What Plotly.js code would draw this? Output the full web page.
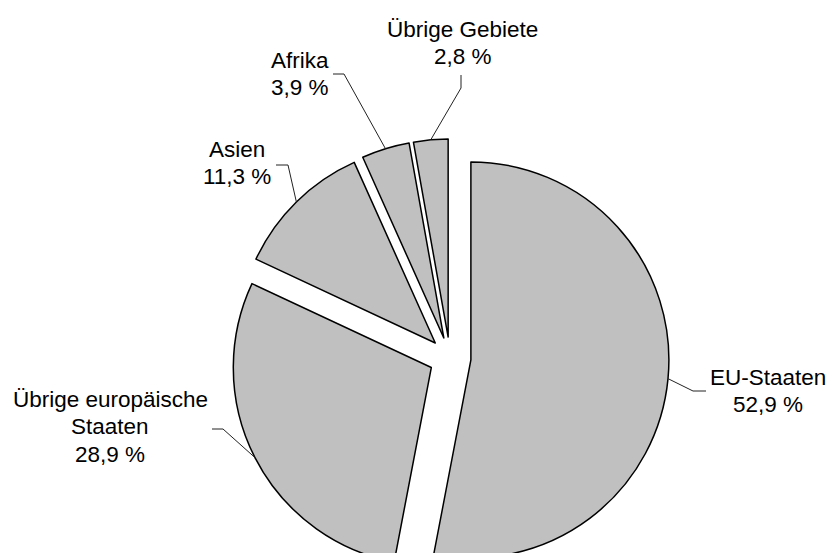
<!DOCTYPE html>
<html>
<head>
<meta charset="utf-8">
<script src="https://cdn.plot.ly/plotly-3.0.1.min.js"></script>
<style>
  html, body { margin: 0; padding: 0; overflow: hidden; background: #fff; }
  #chart { width: 829px; height: 600px; }
</style>
</head>
<body>
<div id="chart"></div>
<script>
// ---- data ----
const categories = ['EU-Staaten', 'Übrige europäische Staaten', 'Asien', 'Afrika', 'Übrige Gebiete'];
const shares = [52.9, 28.9, 11.3, 3.9, 2.8];
const labelLines = [
  ['EU-Staaten'],
  ['Übrige europäische', 'Staaten'],
  ['Asien'],
  ['Afrika'],
  ['Übrige Gebiete']
];

// ---- layout config (pixels) ----
const W = 829, H = 600;
const pieCenter = [450, 358];
const pieRadius = 198;
const pullFrac = 0.106;
const fontSize = 22.5;
const lineStep = 27.5;
// label placement: text centre x, first baseline y, elbow point, end point
const labelPlace = [
  { tx: 768, by: 385, elbow: [693, 391], end: [706, 391] },
  { tx: 110, by: 407, elbow: [223, 429], end: [212, 429] },
  { tx: 236.5, by: 157, elbow: [288, 165], end: [276, 165] },
  { tx: 300, by: 68, elbow: [344, 74], end: [333, 74] },
  { tx: 463, by: 37, elbow: [461, 88], end: [461, 75] }
];

const fmt = v => v.toFixed(1).replace('.', ',') + ' %';
const px2x = x => x / W;
const px2y = y => 1 - y / H;

const half = pieRadius * (1 + pullFrac);
const domain = {
  x: [px2x(pieCenter[0] - half), px2x(pieCenter[0] + half)],
  y: [px2y(pieCenter[1] + half), px2y(pieCenter[1] - half)]
};

const trace = {
  type: 'pie',
  labels: categories,
  values: shares,
  sort: false,
  direction: 'clockwise',
  rotation: 0,
  pull: shares.map(() => pullFrac),
  textinfo: 'none',
  hoverinfo: 'skip',
  marker: { colors: shares.map(() => '#c0c0c0'), line: { color: '#000', width: 1.5 } },
  domain: domain,
  showlegend: false
};

// text annotations (one per line)
const annotations = [];
labelLines.forEach((lines, i) => {
  const all = lines.concat([fmt(shares[i])]);
  const p = labelPlace[i];
  all.forEach((t, k) => {
    const baseline = p.by + k * lineStep;
    annotations.push({
      xref: 'paper', yref: 'paper',
      x: px2x(p.tx), y: px2y(baseline - 0.347 * fontSize),
      xanchor: 'center', yanchor: 'middle',
      text: t, showarrow: false,
      font: { family: 'Liberation Sans, Arial, sans-serif', size: fontSize, color: '#000' }
    });
  });
});

const layout = {
  width: W, height: H,
  margin: { l: 0, r: 0, t: 0, b: 0 },
  paper_bgcolor: '#fff',
  plot_bgcolor: '#fff',
  showlegend: false,
  annotations: annotations,
  font: { family: 'Liberation Sans, Arial, sans-serif' }
};

const gd = document.getElementById('chart');
Plotly.newPlot(gd, [trace], layout, { staticPlot: true, displayModeBar: false }).then(() => {
  // leader lines start at the middle of each pulled slice's arc, from Plotly's own geometry
  let cx = pieCenter[0], cy = pieCenter[1], r = pieRadius, pts = null;
  try {
    const cd = gd.calcdata[0];
    cx = cd[0].cx; cy = cd[0].cy; r = cd[0].r; pts = cd;
  } catch (e) {}
  const total = shares.reduce((a, b) => a + b, 0);
  let acc = 0;
  const shapes = shares.map((v, i) => {
    let mx, my;
    if (pts && pts[i] && pts[i].pxmid) {
      mx = pts[i].pxmid[0]; my = pts[i].pxmid[1];
    } else {
      const a = (acc + v / 2) / total * 2 * Math.PI;
      mx = r * Math.sin(a); my = -r * Math.cos(a);
    }
    acc += v;
    const ax = cx + (1 + pullFrac) * mx, ay = cy + (1 + pullFrac) * my;
    const p = labelPlace[i];
    return {
      type: 'path', xref: 'paper', yref: 'paper',
      path: 'M ' + px2x(ax) + ' ' + px2y(ay) +
            ' L ' + px2x(p.elbow[0]) + ' ' + px2y(p.elbow[1]) +
            ' L ' + px2x(p.end[0]) + ' ' + px2y(p.end[1]),
      line: { color: '#222', width: 1 }
    };
  });
  return Plotly.relayout(gd, { shapes: shapes });
});
</script>
</body>
</html>
